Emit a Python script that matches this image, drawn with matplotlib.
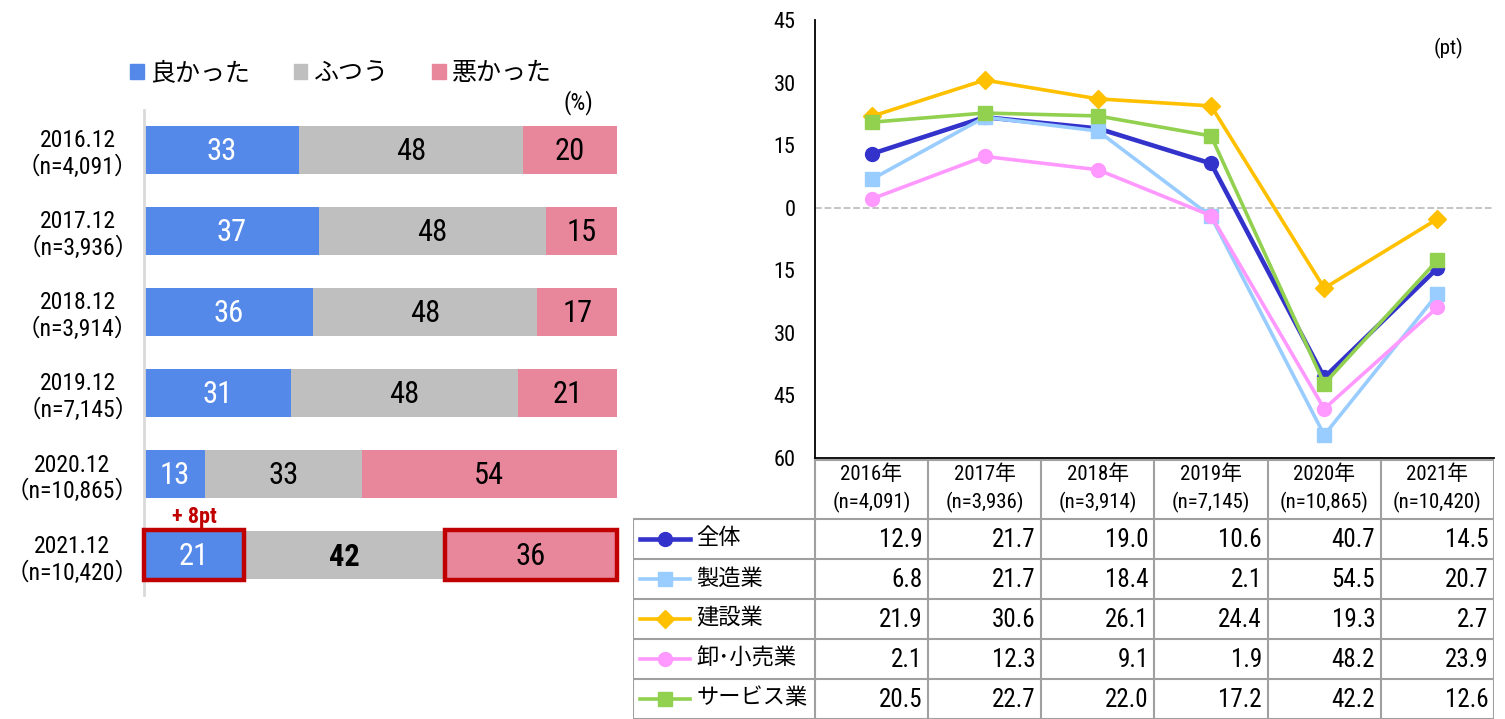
import matplotlib
matplotlib.use('Agg')
import matplotlib.pyplot as plt
from matplotlib.patches import Patch, Rectangle
from matplotlib.ticker import FuncFormatter
import numpy as np
import logging

logging.getLogger('matplotlib.font_manager').setLevel(logging.ERROR)
plt.rcParams['font.family'] = ['Roboto Condensed', 'PT Sans Narrow', 'Archivo Narrow',
                               'Noto Sans CJK JP', 'DejaVu Sans']

# left: survey share (%)
periods = ['2016.12', '2017.12', '2018.12', '2019.12', '2020.12', '2021.12']
samples = ['4,091', '3,936', '3,914', '7,145', '10,865', '10,420']
good = [33, 37, 36, 31, 13, 21]
normal = [48, 48, 48, 48, 33, 42]
bad = [20, 15, 17, 21, 54, 36]
share_names = ['良かった', 'ふつう', '悪かった']

# right: DI by industry (pt)
years = ['2016年', '2017年', '2018年', '2019年', '2020年', '2021年']
industries = ['全体', '製造業', '建設業', '卸･小売業', 'サービス業']
di_total = [12.9, 21.7, 19.0, 10.6, -40.7, -14.5]
di_manufacturing = [6.8, 21.7, 18.4, -2.1, -54.5, -20.7]
di_construction = [21.9, 30.6, 26.1, 24.4, -19.3, -2.7]
di_trade = [2.1, 12.3, 9.1, -1.9, -48.2, -23.9]
di_service = [20.5, 22.7, 22.0, 17.2, -42.2, -12.6]

share_colors = ['#5589E9', '#BFBFBF', '#E8879C']
line_styles = [
    ('#3333CC', 'o', 3.3),
    ('#99CCFF', 's', 2.6),
    ('#FFC000', 'D', 2.6),
    ('#FF99FF', 'o', 2.6),
    ('#92D050', 's', 2.6),
]
highlight = '#C00000'

fig = plt.figure(figsize=(15.05, 7.19), dpi=100)

# ---- stacked bars ----
ax = fig.add_axes([144 / 1505, 1 - 595 / 719, 473 / 1505, 485 / 719])
y = np.arange(len(periods))
totals = np.array(good) + np.array(normal) + np.array(bad)
left = np.zeros(len(periods))
segments = []
last = len(periods) - 1
for k, (vals, color) in enumerate(zip([good, normal, bad], share_colors)):
    widths = np.array(vals) / totals * 100
    ax.barh(y, widths, left=left, height=0.59, color=color)
    segments.append((left.copy(), widths))
    for yi, (l, w, v) in enumerate(zip(left, widths, vals)):
        ax.text(l + w / 2, yi + 0.02, str(v), ha='center', va='center',
                fontsize=22, color='white' if k == 0 else 'black',
                fontweight='bold' if (yi == last and k == 1) else 'normal')
    left = left + widths

# red boxes on the latest period's good / bad segments
for seg in (segments[0], segments[2]):
    l, w = seg[0][last], seg[1][last]
    ax.add_patch(Rectangle((l, last - 0.31), w, 0.62, fill=False,
                           edgecolor=highlight, linewidth=3.2, zorder=5, clip_on=False))
ax.text(segments[0][0][last] + segments[0][1][last] / 2, last - 0.33,
        f'+ {good[-1] - good[-2]}pt', ha='center', va='bottom',
        fontsize=16, color=highlight, fontweight='bold')

ax.set_xlim(0, 100)
ax.set_ylim(len(periods) - 0.51, -0.49)
ax.set_yticks(y)
ax.set_yticklabels([f'{p}\n（n={n}）' for p, n in zip(periods, samples)], fontsize=17)
for lab in ax.get_yticklabels():
    lab.set_multialignment('center')
ax.tick_params(axis='y', length=0, pad=4)
ax.set_xticks([])
for side in ['top', 'right', 'bottom']:
    ax.spines[side].set_visible(False)
ax.spines['left'].set_color('#D9D9D9')
ax.spines['left'].set_linewidth(2)
ax.text(0.95, 0.99, '(%)', transform=ax.transAxes, ha='right', va='bottom', fontsize=17)

fig.legend(handles=[Patch(color=c, label=n) for c, n in zip(share_colors, share_names)],
           loc='center', bbox_to_anchor=(341 / 1505, 1 - 73 / 719), ncol=3,
           frameon=False, fontsize=18, handlelength=0.55, handleheight=0.55,
           handletextpad=0.25, columnspacing=1.75)

# ---- line chart ----
lax = fig.add_axes([815 / 1505, 1 - 458 / 719, 679 / 1505, 438 / 719])
series = [di_total, di_manufacturing, di_construction, di_trade, di_service]
xs = np.arange(len(years))
lax.axhline(0, color='#BFBFBF', linestyle='--', linewidth=1.3, zorder=0)
for vals, (color, marker, lw) in zip(series, line_styles):
    lax.plot(xs, vals, color=color, marker=marker, linewidth=lw,
             markersize=10 if marker != 'D' else 9)
lax.set_xlim(-0.5, len(years) - 0.5)
lax.set_ylim(-60, 45)
lax.set_yticks(np.arange(-60, 46, 15))
lax.yaxis.set_major_formatter(FuncFormatter(lambda v, p: f'{abs(v):.0f}'))
lax.tick_params(axis='y', length=0, labelsize=16, pad=14)
lax.set_xticks([])
for side in ['top', 'right']:
    lax.spines[side].set_visible(False)
lax.spines['left'].set_linewidth(1.3)
lax.spines['bottom'].set_linewidth(1.3)
lax.text(0.955, 0.935, '(pt)', transform=lax.transAxes, ha='right', va='center', fontsize=15)

# ---- data table ----
tax = fig.add_axes([633 / 1505, 0, (1494 - 633) / 1505, 260 / 719])
label_w = 182 / 113.2
tax.set_xlim(-label_w, len(years))
tax.set_ylim(260, 0)
tax.axis('off')
grid = dict(color='#A0A0A0', linewidth=1.5)
n_rows = len(industries)
for i in range(len(years) + 1):
    tax.plot([i, i], [1, 260], **grid)
tax.plot([-label_w, -label_w], [60, 260], **grid)
tax.plot([0, len(years)], [1, 1], **grid)
for r in range(n_rows + 1):
    tax.plot([-label_w, len(years)], [60 + 40 * r, 60 + 40 * r], **grid)
for i, (yr, n) in enumerate(zip(years, samples)):
    tax.text(i + 0.5, 30, f'{yr}\n(n={n})', ha='center', va='center',
             fontsize=15, linespacing=1.5)
for r, (name, vals, (color, marker, lw)) in enumerate(zip(industries, series, line_styles)):
    cy = 60 + 40 * r + 20
    tax.plot([-label_w + 0.06, -label_w + 0.5], [cy, cy], color=color, linewidth=lw, clip_on=False)
    tax.plot([-label_w + 0.28], [cy], color=color, marker=marker,
             markersize=10 if marker != 'D' else 9, clip_on=False)
    tax.text(-label_w + 0.56, cy, name, ha='left', va='center', fontsize=16)
    for i, v in enumerate(vals):
        tax.text(i + 0.95, cy + 1, f'{abs(v):.1f}', ha='right', va='center', fontsize=18)

fig.savefig('out.png', dpi=100)
